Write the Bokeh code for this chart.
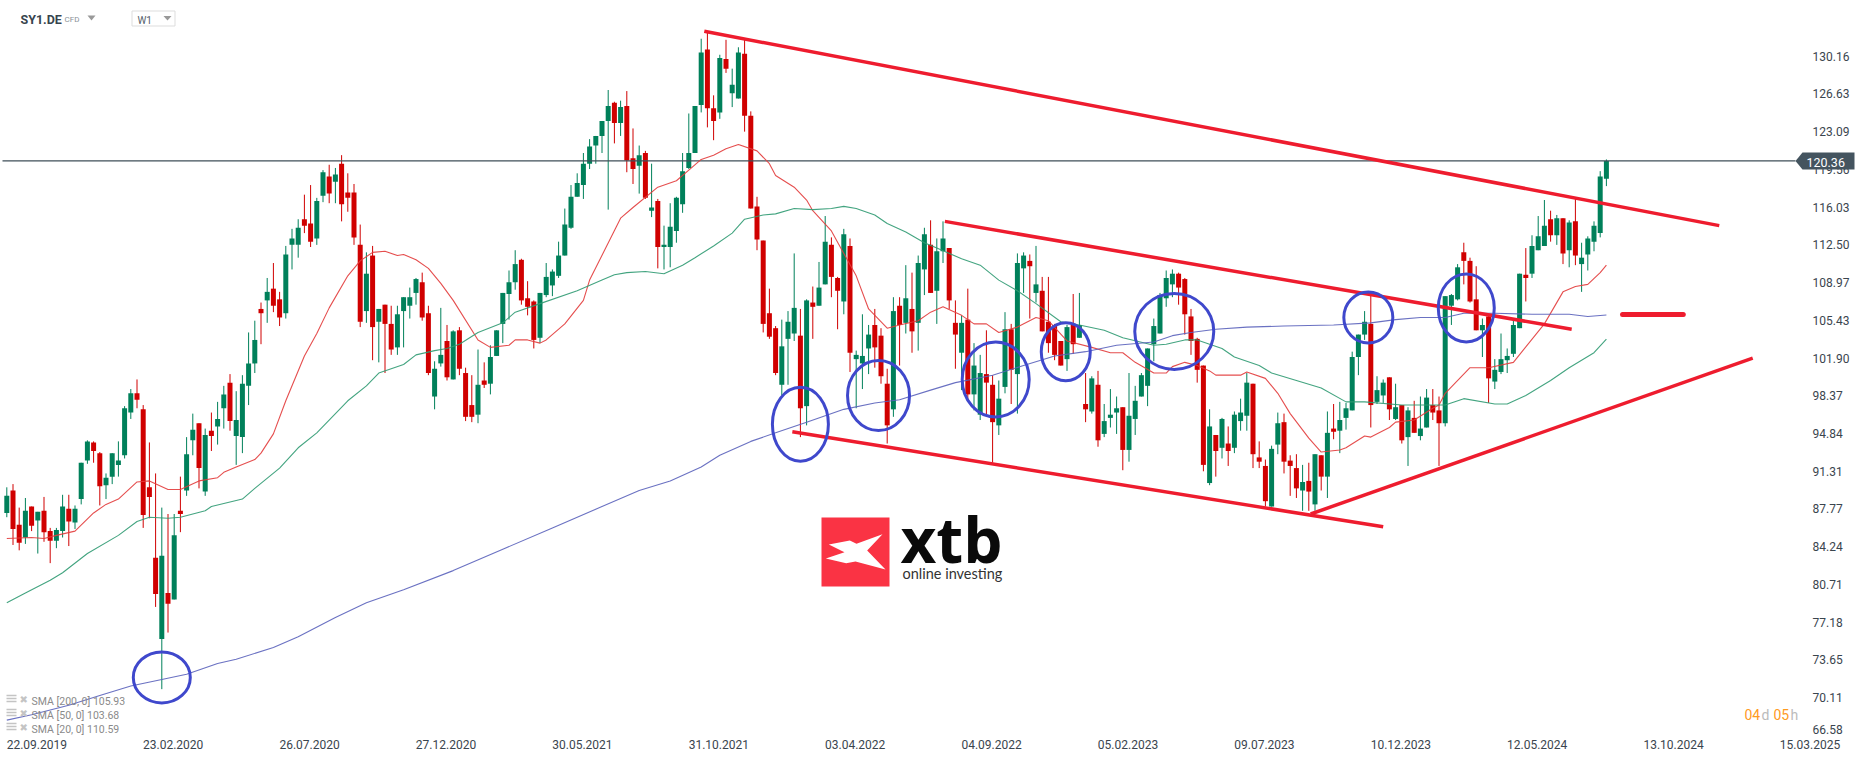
from bokeh.plotting import figure
from bokeh.core.properties import value
from bokeh.models import LinearAxis, FixedTicker, Range1d
from bokeh.embed import file_html
from bokeh.resources import INLINE

symbol = "SY1.DE"
timeframe = "W1"
last_price = 120.36
date_ticks = [0, 22, 44, 66, 88, 110, 132, 154, 176, 198, 220, 242, 264, 286]
date_labels = ["22.09.2019", "23.02.2020", "26.07.2020", "27.12.2020", "30.05.2021", "31.10.2021", "03.04.2022",
               "04.09.2022", "05.02.2023", "09.07.2023", "10.12.2023", "12.05.2024", "13.10.2024", "15.03.2025"]
price_labels = ["130.16", "126.63", "123.09", "119.56", "116.03", "112.50", "108.97", "105.43", "101.90", "98.37",
                "94.84", "91.31", "87.77", "84.24", "80.71", "77.18", "73.65", "70.11", "66.58"]
price_ticks = [130.16, 126.63, 123.09, 119.56, 116.03, 112.50, 108.97, 105.43, 101.90, 98.37,
               94.84, 91.31, 87.77, 84.24, 80.71, 77.18, 73.65, 70.11, 67.1]

candle_dirs = ("GRRGRGRRGG" "RGGGRRGGGG" "GRRRRGRGRG" "GRGRGGRGGG" "GRGRRGGGRR"
               "GGRGRRRRGR" "GRRGGGGRRG" "GRGRRRGRGG" "GGGRRRGGGG" "GGGGGGGGRG"
               "RRGRGRGGGG" "GGGRRGRGGR" "RRRRRGGGRG" "RGGRRGRGGG" "RRRGRGRGGR"
               "GGRRGRGGRR" "GGRGGRGRRR" "RGRGRGRGGG" "RGGGGGGGGR" "RRRRGRGRGG"
               "GRRRGGRRRG" "RGRGRGGGGG" "RGGRGRGRGG" "RRGGGRRRGR" "GGGGGRGGGR"
               "GRGRGGGGG")
highs = [89.8,90.1,87.9,88.8,88.0,87.5,88.9,86.0,86.0,89.1,
         89.1,88.1,92.1,94.2,94.1,93.1,91.1,93.0,94.1,97.4,
         99.0,99.9,97.5,94.0,91.1,87.9,87.3,87.3,90.8,94.5,
         96.7,95.8,95.3,96.8,97.8,99.3,100.4,98.8,100.3,104.3,
         105.4,107.1,109.4,110.8,108.1,112.4,114.0,114.9,117.2,118.1,
         116.9,119.5,120.0,119.7,120.9,119.2,118.2,114.4,111.8,112.4,
         106.5,106.9,106.8,106.8,107.6,108.5,109.4,109.9,106.8,101.6,
         106.6,105.0,104.5,104.8,101.0,100.3,102.7,101.5,103.1,104.5,
         108.0,110.1,112.0,111.2,109.1,107.3,108.0,110.8,110.2,112.8,
         115.9,118.1,119.2,121.1,122.4,122.7,124.1,127.0,125.9,126.0,
         126.9,123.4,121.8,121.3,120.1,116.8,114.3,116.4,117.0,121.1,
         124.8,125.5,131.8,132.4,126.5,130.3,131.7,129.0,131.0,131.7,
         125.0,117.0,112.9,108.4,104.9,105.5,106.3,111.7,106.5,107.4,
         108.6,110.9,115.2,113.2,109.5,114.0,113.1,102.6,106.0,105.0,
         106.5,104.7,100.9,107.6,107.6,110.6,109.9,111.5,114.1,114.8,
         113.1,114.7,112.2,107.3,105.9,108.4,103.3,102.2,104.5,100.3,
         99.8,106.2,105.1,111.7,111.8,111.6,112.4,109.5,109.5,105.1,
         103.5,105.0,107.9,108.0,100.5,100.2,100.7,97.6,99.0,98.3,
         97.3,100.5,99.3,100.5,102.8,105.6,108.0,110.1,110.2,109.9,
         109.4,106.5,103.8,101.2,97.1,94.7,96.3,95.5,96.9,98.1,
         100.5,99.5,94.1,92.4,93.7,96.8,96.7,92.8,92.9,91.9,
         92.1,92.9,92.8,96.9,97.6,97.8,97.7,102.5,104.1,106.3,
         107.8,100.2,99.9,100.1,99.5,97.5,97.3,97.9,98.3,99.0,
         99.0,98.3,107.7,107.9,110.7,112.7,111.3,110.5,105.6,105.9,
         101.8,104.2,102.8,105.6,109.8,112.2,113.4,115.2,116.7,115.7,
         115.3,115.0,114.8,116.8,112.7,113.3,114.7,119.4,120.5]
body_tops = [89.0,89.5,86.3,87.6,88.0,87.5,87.6,85.7,85.8,88.0,
             87.8,87.8,92.1,94.1,94.0,93.0,90.7,93.0,92.3,97.2,
             98.6,98.6,97.1,89.8,83.2,83.4,79.9,85.3,87.6,92.9,
             95.2,95.8,94.7,95.1,96.2,98.5,99.6,96.1,99.5,101.4,
             103.6,106.5,108.1,108.4,107.4,111.6,113.1,114.1,114.9,114.5,
             116.6,119.3,118.9,119.1,120.1,117.4,117.4,112.5,109.8,111.5,
             106.5,106.9,105.1,106.0,107.6,107.6,109.3,109.0,106.1,100.9,
             102.2,103.5,104.4,104.5,100.5,97.5,99.4,99.8,102.0,104.5,
             108.0,109.0,110.7,111.1,107.5,107.2,108.0,109.5,110.0,111.5,
             114.4,117.0,118.3,120.1,121.7,122.7,124.1,125.5,125.8,125.4,
             125.5,120.6,120.9,121.1,116.0,116.6,112.5,114.2,116.9,119.4,
             121.1,125.5,130.5,130.8,125.3,130.0,129.9,127.5,130.5,130.4,
             124.6,116.1,112.9,106.1,104.7,103.0,105.3,106.6,104.0,107.3,
             107.1,108.5,112.8,112.5,109.4,113.5,112.4,102.2,102.1,104.1,
             105.0,104.0,99.5,106.3,106.8,107.5,106.5,110.8,113.5,112.5,
             111.9,113.1,112.2,105.2,105.2,105.5,101.2,100.5,100.4,99.4,
             98.1,104.6,104.6,110.8,111.5,111.0,108.8,108.2,105.3,105.0,
             103.5,104.8,105.0,105.0,97.6,100.0,99.4,96.0,96.6,97.2,
             97.3,96.5,97.9,100.3,102.8,104.9,107.8,109.4,109.8,109.8,
             109.3,105.8,103.7,101.2,95.5,94.7,96.2,93.9,96.6,96.8,
             99.6,99.5,92.6,91.8,93.4,95.8,95.9,92.3,91.6,90.3,
             90.4,92.9,92.8,94.9,95.3,96.1,97.2,102.0,104.1,105.3,
             105.1,98.9,99.6,100.1,97.3,97.5,97.0,96.3,95.3,98.2,
             97.5,97.0,107.7,107.8,110.4,111.8,111.0,107.4,105.0,105.8,
             100.8,101.8,102.1,105.0,109.8,109.7,112.4,113.3,114.3,114.9,
             115.0,115.0,114.6,114.7,111.3,113.1,114.3,118.9,120.36]
body_bottoms = [87.4,85.9,84.6,85.1,86.2,86.7,85.6,84.8,84.8,85.7,
                86.6,86.5,88.7,92.3,93.2,89.9,90.0,90.8,91.9,92.8,
                96.8,98.0,87.2,88.9,79.8,75.6,78.9,79.3,87.3,89.5,
                94.2,91.6,89.4,94.6,95.5,97.2,96.0,94.6,94.5,99.3,
                101.4,106.1,107.3,106.8,105.7,106.1,112.5,112.5,114.3,112.8,
                113.1,117.1,117.3,118.4,116.3,116.9,113.2,105.3,106.3,104.8,
                105.3,105.1,102.7,102.9,106.3,106.8,108.0,105.7,100.5,98.3,
                101.4,100.1,99.9,100.9,96.4,96.4,96.6,99.4,99.5,102.1,
                105.1,107.9,109.0,107.3,106.7,103.6,103.8,107.8,108.7,109.6,
                111.5,114.1,117.0,118.1,120.1,121.8,122.7,124.1,123.9,123.9,
                120.4,119.6,119.9,116.9,115.7,112.3,112.3,112.3,113.8,116.3,
                119.7,121.1,125.6,125.3,124.1,124.9,129.0,126.7,126.2,124.6,
                115.9,113.0,105.1,103.9,100.5,99.4,103.7,104.2,97.2,97.4,
                106.7,106.8,108.8,109.5,108.2,107.2,102.4,101.8,101.4,102.8,
                102.9,100.2,95.6,97.1,105.0,105.2,104.4,105.2,110.2,108.0,
                108.2,111.9,107.3,104.1,102.4,98.5,98.5,96.6,99.6,95.9,
                95.6,99.2,100.8,100.4,110.3,110.5,108.0,104.4,103.3,102.2,
                101.2,101.8,103.2,103.8,97.1,96.9,94.2,94.8,96.3,96.8,
                93.3,93.3,96.2,98.3,99.3,103.2,104.2,107.5,108.8,108.5,
                106.0,103.5,100.8,91.9,90.2,93.2,93.5,93.2,93.5,96.0,
                96.5,92.9,92.2,88.5,88.0,93.8,92.2,91.8,89.7,89.5,
                89.4,88.2,90.8,90.8,95.0,95.1,96.3,97.0,102.0,104.1,
                97.5,97.8,98.4,97.1,96.2,94.2,94.5,94.9,94.6,95.4,
                96.8,95.8,95.8,106.8,107.4,111.0,107.2,104.5,104.5,100.0,
                99.7,100.6,101.7,102.3,104.7,109.4,109.8,112.0,112.4,113.4,
                113.4,111.7,112.0,111.5,110.7,111.6,112.8,113.6,118.7]
lows = [87.0,84.4,83.9,84.5,85.7,83.6,84.7,82.7,84.1,85.1,
        84.3,85.9,88.2,92.0,92.1,88.1,88.7,90.1,90.8,92.5,
        96.2,97.2,86.0,86.9,78.6,70.9,76.2,79.3,85.6,89.0,
        92.8,89.7,89.0,93.2,93.8,95.3,95.1,91.9,93.0,97.5,
        100.5,103.2,105.2,106.2,104.9,105.6,110.2,111.3,113.6,112.3,
        112.5,116.5,116.4,116.4,114.7,115.6,112.5,104.8,105.2,101.7,
        101.5,100.5,102.2,102.2,102.9,105.6,106.9,105.4,100.3,97.1,
        101.1,99.8,99.9,100.3,96.0,95.9,95.8,99.1,98.5,102.1,
        103.3,105.5,108.3,106.9,105.9,102.8,103.3,107.6,107.7,109.4,
        111.5,114.0,117.0,116.8,119.6,120.1,121.1,115.8,122.0,122.7,
        119.3,118.2,117.3,116.8,115.1,110.3,110.2,110.4,112.7,115.5,
        119.6,121.1,124.9,123.5,122.3,124.3,128.6,125.4,126.2,123.1,
        115.9,112.0,104.3,103.7,100.3,98.4,99.4,103.5,94.5,95.6,
        103.7,106.8,108.8,107.6,104.6,106.0,100.6,97.2,99.0,100.4,
        101.0,99.5,93.9,96.4,101.2,104.2,102.4,102.6,107.8,108.0,
        105.1,110.8,106.5,100.9,98.9,97.9,97.0,96.1,96.5,92.1,
        94.7,98.6,97.6,96.7,108.0,105.6,107.1,104.4,102.4,101.7,
        101.2,100.7,102.3,103.8,95.9,96.7,93.6,94.5,95.4,94.8,
        91.4,92.2,94.7,98.3,97.4,101.6,104.2,106.7,107.6,106.9,
        104.1,102.2,99.6,91.3,90.0,90.8,92.5,91.8,93.0,95.1,
        95.1,91.6,91.6,88.0,88.0,92.9,91.1,89.0,88.8,87.6,
        87.6,87.6,89.5,88.8,94.3,93.0,95.2,97.0,100.3,103.6,
        95.4,97.6,97.7,96.1,96.1,93.9,91.8,94.9,94.2,95.4,
        96.1,91.8,95.5,105.0,107.3,108.8,107.1,104.5,102.0,97.7,
        99.0,100.4,100.5,102.0,104.7,107.2,109.4,112.0,112.4,112.8,
        112.5,110.7,110.4,110.6,108.1,110.1,111.9,113.2,118.0]

sma20_weeks = [0,4,6,8,11,14,16,18,21,23,26,28,31,34,35,37,40,41,43,45,48,50,52,55,57,59,61,63,64,66,68,70,72,76,78,
               81,82,84,86,87,90,93,94,99,101,105,108,110,112,114,116,118,121,123,124,127,129,130,133,135,137,139,142,
               144,147,149,151,154,156,158,160,163,166,168,171,175,178,180,182,185,187,188,190,192,194,195,199,200,203,
               205,207,210,212,215,216,219,220,223,224,227,230,231,232,236,239,243,248,251,253,255,257,258]
sma20_values = [85.0,85.1,85.0,85.3,85.7,87.4,88.2,88.7,90.3,90.4,89.6,89.6,90.4,90.7,91.2,91.7,92.4,93.0,94.8,97.9,102.1,
                104.2,106.6,109.6,111.0,111.8,111.9,111.5,111.6,111.1,110.3,108.9,107.3,103.6,102.9,103.1,103.6,103.6,
                103.3,103.6,105.1,107.3,109.2,115.0,116.0,117.9,118.5,119.5,120.5,120.9,121.5,121.9,121.3,120.1,119.0,
                117.9,116.7,115.7,113.8,111.7,109.6,106.5,104.7,105.0,105.4,106.2,106.7,105.9,105.1,105.1,104.3,104.8,
                105.7,105.4,103.5,102.9,102.4,102.4,101.5,100.5,100.5,101.1,101.5,101.2,100.7,100.3,100.3,100.6,100.0,
                98.6,96.7,94.4,93.1,93.3,93.5,94.6,94.5,95.4,95.9,96.1,97.2,97.5,98.6,101.0,101.0,101.5,105.1,108.1,
                108.6,108.8,109.9,110.6]
sma50_weeks = [0,3,7,9,13,18,21,23,26,28,32,33,38,40,44,47,50,55,58,60,64,66,69,71,73,76,80,82,86,92,96,98,100,103,106,109,
               111,114,117,119,122,124,127,130,133,135,137,140,142,145,148,150,154,157,160,163,166,170,173,177,180,185,
               187,190,192,196,198,202,204,208,212,216,219,225,232,235,240,242,245,249,252,256,258]
sma50_values = [79.0,79.9,81.1,81.8,83.6,85.3,86.6,87.0,86.9,87.0,87.6,88.0,88.7,89.7,91.6,93.5,94.9,97.9,99.3,100.5,101.3,
                102.2,102.6,102.8,103.2,104.3,105.2,106.2,107.0,108.2,109.2,109.7,109.9,110.0,109.8,110.6,111.3,112.4,
                113.6,114.9,115.3,115.4,115.9,115.8,115.9,116.1,115.9,115.3,114.5,113.7,112.7,112.2,111.2,110.6,109.2,
                108.2,107.0,105.3,105.0,104.5,103.8,103.1,103.2,103.6,103.6,102.8,102.0,101.2,100.5,99.8,99.1,97.8,97.8,
                97.5,97.5,98.1,97.6,97.6,98.4,99.8,101.0,102.4,103.68]
sma200_weeks = [0,4,10,15,20,25,29,34,37,43,47,53,58,64,72,80,88,96,102,107,112,115,120,124,129,135,140,144,149,153,159,
                164,169,174,179,185,188,191,195,200,206,214,220,224,228,232,235,240,246,252,255,258]
sma200_values = [68.0,68.5,69.4,70.3,71.2,71.8,72.3,73.3,73.7,74.8,75.8,77.6,79.0,80.2,82.0,84.0,86.0,88.0,89.5,90.4,91.7,
                 92.8,94.1,94.9,95.9,97.1,97.7,98.0,98.9,99.6,100.3,101.2,102.1,102.5,103.1,103.4,104.0,104.3,104.6,104.8,
                 104.9,105.0,105.2,105.5,105.7,105.7,106.1,106.1,106.0,106.0,105.8,105.93]

trend_weeks = [[112.5, 276.2], [151.3, 252.4], [126.7, 222.0], [210.3, 281.6]]
trend_prices = [[132.5, 114.3], [114.7, 104.6], [95.0, 86.1], [87.3, 101.9]]
level_weeks = [260.6, 270.4]
level_prices = [105.97, 105.97]
circle_weeks = [25.0, 128.0, 140.6, 159.5, 170.8, 188.3, 219.6, 235.4]
circle_prices = [72.0, 95.7, 98.4, 99.9, 102.5, 104.4, 105.7, 106.6]
circle_w = [57, 56, 62, 67, 49, 79, 49, 56]
circle_h = [51, 74, 70, 75, 58, 76, 51, 68]
legend_texts = ["SMA [200, 0] 105.93", "SMA [50, 0] 103.68", "SMA [20, 0] 110.59"]

W, H = 1858, 751
PX_W = 6.2
PX_P = 0.09363
LABEL_HALF = 30 / PX_W  # date labels start at their week, half a label to the right of the tick anchor
def xd(px): return (px - 6.3) / PX_W
def yd(px): return 135.38 - px * PX_P

GREEN, RED, BLUE, TREND = "#00805a", "#d00000", "#3f48cc", "#ee1c2e"
INK = "#3a454e"

p = figure(width=W, height=H, output_backend="svg", toolbar_location=None,
           x_range=Range1d(xd(0), xd(W)), y_range=Range1d(yd(H), yd(0)),
           x_axis_location=None, y_axis_location=None,
           min_border=0, min_border_left=0, min_border_right=0, min_border_top=0, min_border_bottom=0)
p.grid.visible = False
p.outline_line_color = None
p.background_fill_color = "white"

yax = LinearAxis(fixed_location=xd(1800), ticker=FixedTicker(ticks=price_ticks),
                 major_label_overrides=dict(zip(price_ticks, price_labels)),
                 axis_line_color=None, major_tick_line_color=None, minor_tick_line_color=None,
                 major_label_standoff=6, major_label_text_font="Roboto", major_label_text_font_size="12px",
                 major_label_text_color=INK)
p.add_layout(yax, "right")
date_anchor = [t + LABEL_HALF for t in date_ticks]
xax = LinearAxis(fixed_location=yd(732), ticker=FixedTicker(ticks=date_anchor),
                 major_label_overrides=dict(zip(date_anchor, date_labels)),
                 axis_line_color=None, major_tick_line_color=None, minor_tick_line_color=None,
                 major_label_standoff=1, major_label_text_font="Roboto", major_label_text_font_size="12px",
                 major_label_text_color=INK)
p.add_layout(xax, "below")

weeks = list(range(len(highs)))
colors = [GREEN if d == "G" else RED for d in candle_dirs]
p.segment(weeks, highs, weeks, lows, line_color=colors, line_width=1)
p.vbar(weeks, width=5 / PX_W, top=body_tops, bottom=body_bottoms, fill_color=colors, line_color=None)

p.line([xd(2), xd(1795)], [last_price, last_price], line_color="#3f4f58", line_width=1.2)
p.line(sma20_weeks, sma20_values, line_color="#e23b3b", line_width=1.1, line_alpha=0.9)
p.line(sma50_weeks, sma50_values, line_color="#2f9a72", line_width=1.1, line_alpha=0.9)
p.line(sma200_weeks, sma200_values, line_color="#5a62bb", line_width=1.1, line_alpha=0.9)

for tw, tp in zip(trend_weeks, trend_prices):
    p.line(tw, tp, line_color=TREND, line_width=3.5)
p.line(level_weeks, level_prices, line_color=TREND, line_width=5, line_cap="round")
p.ellipse(circle_weeks, circle_prices, width=circle_w, height=circle_h, width_units="screen", height_units="screen",
          fill_color=None, line_color=BLUE, line_width=3)

# last-price tag
tag_x = [1795, 1802, 1854, 1854, 1802]
tag_y = [160.5, 152, 152, 169, 169]
p.patch([xd(v) for v in tag_x], [yd(v) for v in tag_y], fill_color="#44545f", line_color=None, level="overlay")
p.text([xd(1806)], [yd(161.5)], text=[f"{last_price:.2f}"], text_color="white", text_font=value("Roboto"),
       text_font_size="12.5px", text_baseline="middle", level="overlay")

# header
p.text([xd(20)], [yd(19)], text=[symbol], text_font=value("Roboto"), text_font_style="bold", text_font_size="12.5px",
       text_color="#37444e", text_baseline="middle")
p.text([xd(64)], [yd(19)], text=["CFD"], text_font=value("Roboto"), text_font_size="8px", text_color="#8a9298",
       text_baseline="middle")
p.patch([xd(v) for v in [87, 95, 91]], [yd(v) for v in [15, 15, 20]], fill_color="#999999", line_color=None)
p.quad(left=[xd(131.5)], right=[xd(174.5)], top=[yd(10.5)], bottom=[yd(25.5)], fill_color="white", line_color="#dddddd")
p.text([xd(137)], [yd(20)], text=[timeframe], text_font=value("Roboto"), text_font_size="10px", text_color="#55606a",
       text_baseline="middle")
p.patch([xd(v) for v in [163, 171, 167]], [yd(v) for v in [15.5, 15.5, 20]], fill_color="#999999", line_color=None)

# legend
for k, txt in enumerate(legend_texts):
    cy = 700 + 14 * k
    for dy in (-5, -2, 1):
        p.quad(left=[xd(6)], right=[xd(16)], top=[yd(cy + dy - 0.8)], bottom=[yd(cy + dy + 0.8)],
               fill_color="#c4c4c4", line_color=None)
    p.text([xd(19)], [yd(cy - 1)], text=["\u2716"], text_font=value("DejaVu Sans"), text_font_size="10px",
           text_color="#c4c4c4", text_baseline="middle")
    p.text([xd(31)], [yd(cy + 0.5)], text=[txt], text_font=value("Roboto"), text_font_size="10.5px", text_color="#8a8a8a",
           text_baseline="middle")

# countdown
for px, txt, col in [(1744, "04", "#ff9a1f"), (1761, "d", "#bbbbbb"), (1773, "05", "#ff9a1f"), (1790, "h", "#bbbbbb")]:
    p.text([xd(px)], [yd(714)], text=[txt], text_font=value("Roboto"), text_font_size="14px", text_color=col,
           text_baseline="middle")

# logo
p.quad(left=[xd(821)], right=[xd(889)], top=[yd(517)], bottom=[yd(586)], fill_color="#fa3344", line_color=None)
logo_x = [85, 148, 168, 246, 200, 255, 165, 137, 76, 132]
logo_y = [132, 120, 130, 101, 150, 207, 183, 188, 174, 155]
p.patch([xd(800 + v / 3) for v in logo_x], [yd(500 + v / 3) for v in logo_y], fill_color="white", line_color=None)
p.text([xd(900)], [yd(538)], text=["xtb"], text_font=value("Open Sans"), text_font_style="bold", text_font_size="62px",
       text_color="#0a0a0a", text_baseline="middle")
p.text([xd(902)], [yd(572.5)], text=["online investing"], text_font=value("Lato"), text_font_size="14.5px", text_color="#333333",
       text_baseline="middle")

open("out.html", "w").write(file_html(p, INLINE))
